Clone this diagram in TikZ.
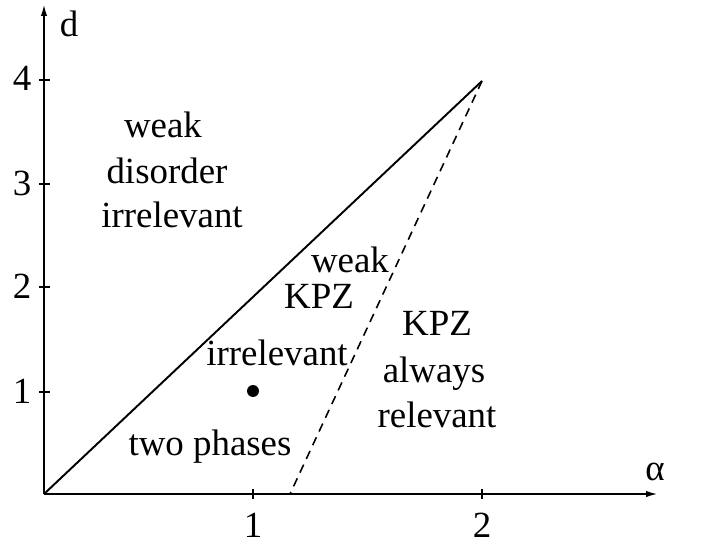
\documentclass[tikz,border=0pt]{standalone}
\usepackage{fontspec}
\setmainfont{Liberation Serif}
\usetikzlibrary{arrows.meta}

\begin{document}
\begin{tikzpicture}[
  x=0.02cm, y=-0.02cm,
  label/.style={font=\fontsize{21}{25}\selectfont, inner sep=0pt, anchor=base},
  axis/.style={line width=1.1pt, -{Latex[length=6.8pt, width=3.6pt]}},
  tick/.style={line width=1pt},
  border/.style={line width=1.1pt},
  threshold/.style={line width=0.9pt, dash pattern=on 5pt off 3.6pt}
]
\useasboundingbox (0,0) rectangle (705,544);
% axes
\coordinate (origin) at (44,494);
\coordinate (ytip) at (44,4);
\coordinate (xtip) at (658,494);
\coordinate (top) at (482,81);
\coordinate (foot) at (290,494);
\draw[axis] (origin) -- (ytip);
\draw[axis] (origin) -- (xtip);
\node[label] (dlab) at (69,37) {d};
\node[label] (alab) at (655,480) {α};
% ticks
\foreach \v/\py in {1/392, 2/287, 3/184, 4/80}{
  \draw[tick] (39,\py) -- (50,\py);
  \node[label] (y\v) at (22,\py+11) {\v};
}
\foreach \v/\px in {1/253, 2/482}{
  \draw[tick] (\px,489) -- (\px,499);
  \node[label] (x\v) at (\px,537) {\v};
}
% boundaries
\draw[border] (origin) -- (top);
\draw[threshold] (top) -- (foot);
\fill (253,391) circle (3.4pt);
% regions
\node[label] (lweak) at (163,137) {weak};
\node[label] (ldis) at (167,183) {disorder};
\node[label] (lirr) at (172,227) {irrelevant};
\node[label] (mweak) at (350,272) {weak};
\node[label] (mkpz) at (319,308) {KPZ};
\node[label] (mirr) at (277,365) {irrelevant};
\node[label] (rkpz) at (437,335) {KPZ};
\node[label] (ralw) at (434,382) {always};
\node[label] (rrel) at (437,427) {relevant};
\node[label] (twoph) at (210,455) {two phases};
\end{tikzpicture}
\end{document}
